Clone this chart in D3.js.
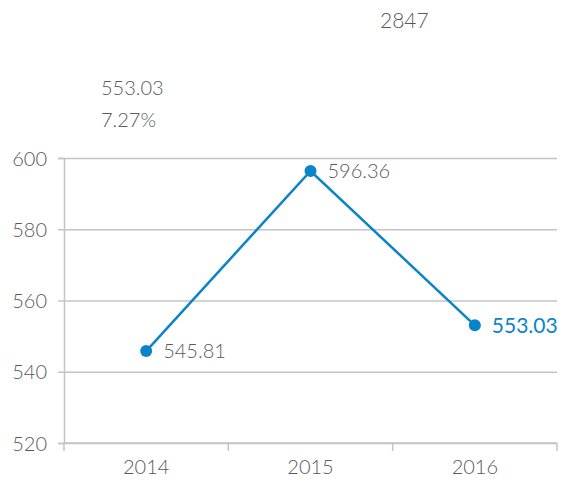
<!DOCTYPE html>
<html>
<head>
<meta charset="utf-8">
<script src="https://cdn.jsdelivr.net/npm/d3@7"></script>
<style>
  html, body { margin: 0; padding: 0; background: #fff; }
  svg text { font-family: "Lato", "Open Sans", sans-serif; font-weight: 300; }
</style>
</head>
<body>
<svg id="chart" width="564" height="484"></svg>
<script>
// Yearly values
const years = ["2014", "2015", "2016"];
const values = [545.81, 596.36, 553.03];
const yTicks = [520, 540, 560, 580, 600];

// Summary figures shown above the plot
const totalLabel = "2847";
const latestLabel = "553.03";
const changeLabel = "7.27%";

const svg = d3.select("#chart");
const margin = { left: 64, right: 7, top: 158, bottom: 41 };
const W = 564, H = 484;
const blue = "#0a84c8";
const grey = "#5a5a5a";
const axisColor = "#c4c4c4";
const fs = "20px";

const x = d3.scaleBand().domain(years).range([margin.left, W - margin.right]);
const y = d3.scaleLinear().domain([520, 600]).range([H - margin.bottom, margin.top]);

// Horizontal grid lines with short ticks on the left
const yAxis = d3.axisLeft(y).tickValues(yTicks).tickSize(6).tickPadding(11);
const gy = svg.append("g").attr("transform", `translate(${margin.left},0)`).call(yAxis);
gy.select(".domain").attr("stroke", axisColor).attr("stroke-width", 1.5);
gy.selectAll(".tick line").attr("stroke", axisColor).attr("stroke-width", 1.5);
gy.selectAll(".tick").append("line")
  .attr("x1", 0).attr("x2", W - margin.right - margin.left)
  .attr("stroke", axisColor).attr("stroke-width", 1.5);
gy.selectAll(".tick text").attr("fill", grey).style("font-size", fs).attr("dy", "0.35em");

// Category axis with ticks on band boundaries
const gx = svg.append("g").attr("transform", `translate(0,${H - margin.bottom})`);
gx.append("line").attr("x1", margin.left).attr("x2", W - margin.right)
  .attr("stroke", axisColor).attr("stroke-width", 1.5);
const bounds = years.map(d => x(d)).concat([x(years[years.length - 1]) + x.bandwidth()]);
gx.selectAll("line.b").data(bounds).enter().append("line").attr("class", "b")
  .attr("x1", d => d).attr("x2", d => d).attr("y1", 0).attr("y2", 8)
  .attr("stroke", axisColor).attr("stroke-width", 1.5);
gx.selectAll("text").data(years).enter().append("text")
  .attr("x", d => x(d) + x.bandwidth() / 2).attr("y", 31)
  .attr("text-anchor", "middle").attr("fill", grey).style("font-size", fs)
  .text(d => d);

// Line and points
const pts = years.map((d, i) => ({ year: d, value: values[i] }));
const cx = d => x(d.year) + x.bandwidth() / 2;
svg.append("path").datum(pts)
  .attr("d", d3.line().x(cx).y(d => y(d.value)))
  .attr("fill", "none").attr("stroke", blue).attr("stroke-width", 2.5);
svg.selectAll("circle").data(pts).enter().append("circle")
  .attr("cx", cx).attr("cy", d => y(d.value)).attr("r", 6).attr("fill", blue);

// Value labels; the latest year is highlighted
svg.selectAll("text.val").data(pts).enter().append("text").attr("class", "val")
  .attr("x", d => cx(d) + 17).attr("y", d => y(d.value))
  .attr("dy", "0.35em")
  .attr("fill", (d, i) => i === pts.length - 1 ? blue : grey)
  .style("font-size", (d, i) => i === pts.length - 1 ? "21px" : fs)
  .style("font-weight", (d, i) => i === pts.length - 1 ? 400 : 300)
  .text(d => d.value.toFixed(2));

// Header figures
svg.append("text").attr("x", 380).attr("y", 28).attr("fill", grey)
  .style("font-size", "21px").text(totalLabel);
svg.append("text").attr("x", 101).attr("y", 95).attr("fill", grey)
  .style("font-size", fs).text(latestLabel);
svg.append("text").attr("x", 101).attr("y", 127).attr("fill", grey)
  .style("font-size", fs).text(changeLabel);
</script>
</body>
</html>
